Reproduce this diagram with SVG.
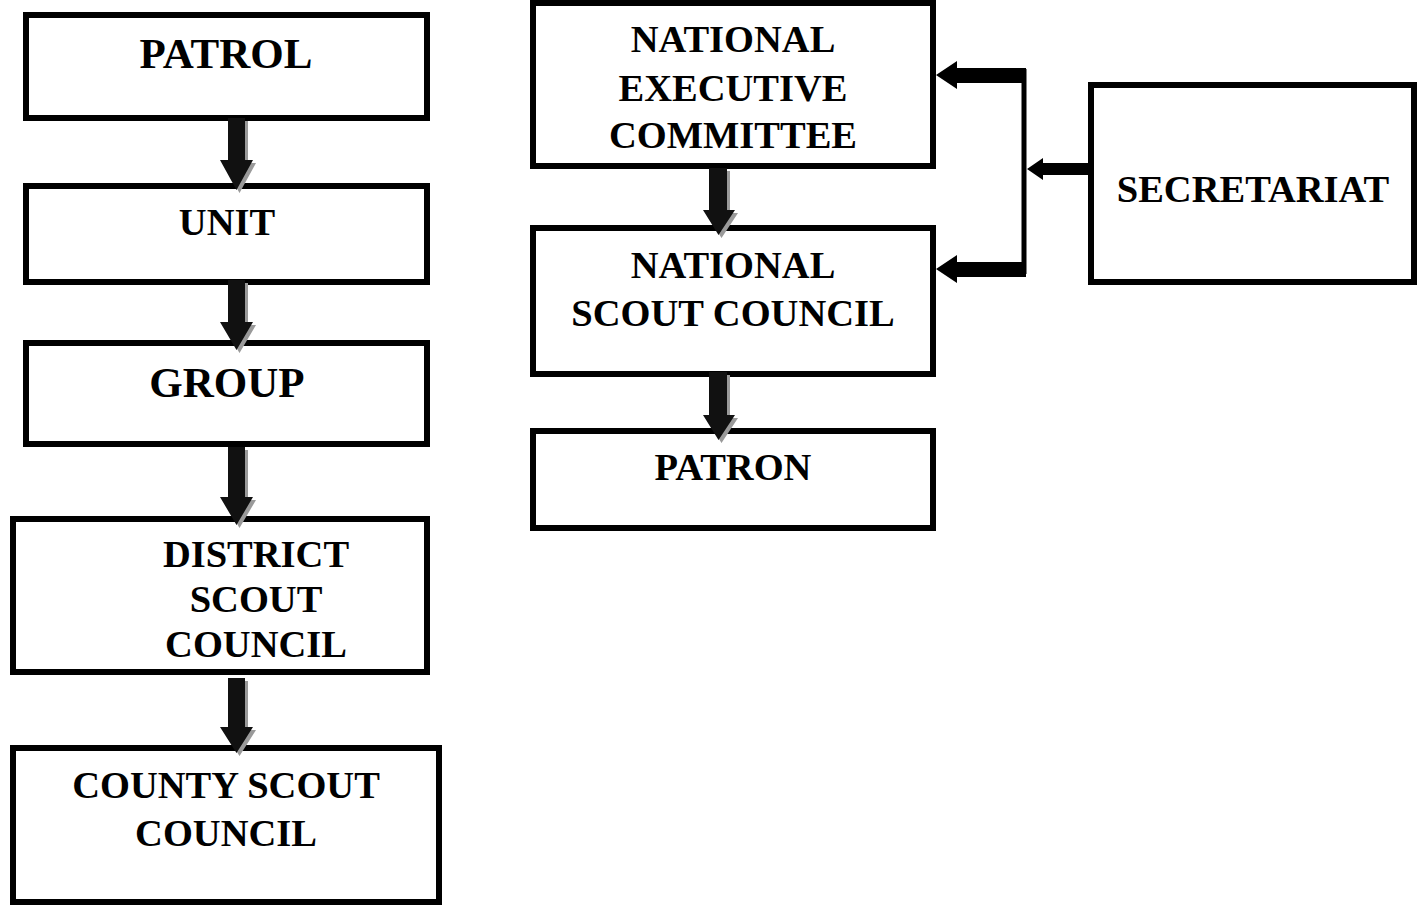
<svg xmlns="http://www.w3.org/2000/svg" width="1424" height="905" viewBox="0 0 1424 905">
<style>
.box{fill:#fff;stroke:#000;stroke-width:6}
.t{font-family:"Liberation Serif","Times New Roman",serif;font-weight:bold;font-size:38.5px;text-anchor:middle;fill:#000}
.big{font-size:43px}
.ar{fill:#111}
.sh{fill:#9a9a9a}
.ln{fill:none;stroke:#000;stroke-width:5}
.hz{fill:#000}
</style>
<rect width="1424" height="905" fill="#fff"/>
<g id="patrol"><rect class="box" x="26" y="15" width="401" height="103"/><text class="t big" x="226" y="68">PATROL</text></g>
<g id="unit"><rect class="box" x="26" y="186" width="401" height="96"/><text class="t" x="227" y="235">UNIT</text></g>
<g id="group"><rect class="box" x="26" y="343" width="401" height="101"/><text class="t big" x="227" y="397">GROUP</text></g>
<g id="district"><rect class="box" x="13" y="519" width="414" height="153"/><text class="t" x="256" y="567">DISTRICT</text><text class="t" x="256" y="612">SCOUT</text><text class="t" x="256" y="657">COUNCIL</text></g>
<g id="county"><rect class="box" x="13" y="748" width="426" height="154"/><text class="t" x="226" y="798">COUNTY SCOUT</text><text class="t" x="226" y="846">COUNCIL</text></g>
<g id="nec"><rect class="box" x="533" y="3" width="400" height="163"/><text class="t" x="733" y="52">NATIONAL</text><text class="t" x="733" y="101">EXECUTIVE</text><text class="t" x="733" y="148">COMMITTEE</text></g>
<g id="nsc"><rect class="box" x="533" y="228" width="400" height="146"/><text class="t" x="733" y="278">NATIONAL</text><text class="t" x="733" y="326">SCOUT COUNCIL</text></g>
<g id="patron"><rect class="box" x="533" y="431" width="400" height="97"/><text class="t" x="733" y="480">PATRON</text></g>
<g id="secretariat"><rect class="box" x="1091" y="85" width="323" height="197"/><text class="t" x="1253" y="202">SECRETARIAT</text></g>
<g id="connectors">
<!-- down arrows: shadow then arrow -->
<g transform="translate(3,3)">
<polygon class="sh" points="228,118 245,118 245,160 253,160 236.5,190 220,160 228,160"/>
<polygon class="sh" points="228,280 245,280 245,322 253,322 236.5,350 220,322 228,322"/>
<polygon class="sh" points="228,447 245,447 245,497 253,497 236.5,525 220,497 228,497"/>
<polygon class="sh" points="228,678 245,678 245,727 253,727 236.5,753 220,727 228,727"/>
<polygon class="sh" points="709,168 727,168 727,210 735,210 718.5,235 703,210 709,210"/>
<polygon class="sh" points="709,372 727,372 727,415 735,415 718.5,440 703,415 709,415"/>
</g>
<polygon class="ar" points="228,118 245,118 245,160 253,160 236.5,190 220,160 228,160"/>
<polygon class="ar" points="228,280 245,280 245,322 253,322 236.5,350 220,322 228,322"/>
<polygon class="ar" points="228,447 245,447 245,497 253,497 236.5,525 220,497 228,497"/>
<polygon class="ar" points="228,678 245,678 245,727 253,727 236.5,753 220,727 228,727"/>
<polygon class="ar" points="709,168 727,168 727,210 735,210 718.5,235 703,210 709,210"/>
<polygon class="ar" points="709,372 727,372 727,415 735,415 718.5,440 703,415 709,415"/>
<!-- secretariat connectors -->
<line class="ln" x1="1024" y1="69" x2="1024" y2="274"/>
<polygon class="hz" points="1026,68 1026,83 957,83 957,89 936,75 957,61 957,68"/>
<polygon class="hz" points="1026,262 1026,277 957,277 957,283 936,269 957,255 957,262"/>
<polygon class="hz" points="1091,163 1091,175 1043,175 1043,180 1027,169 1043,158 1043,163"/>
</g>
</svg>
